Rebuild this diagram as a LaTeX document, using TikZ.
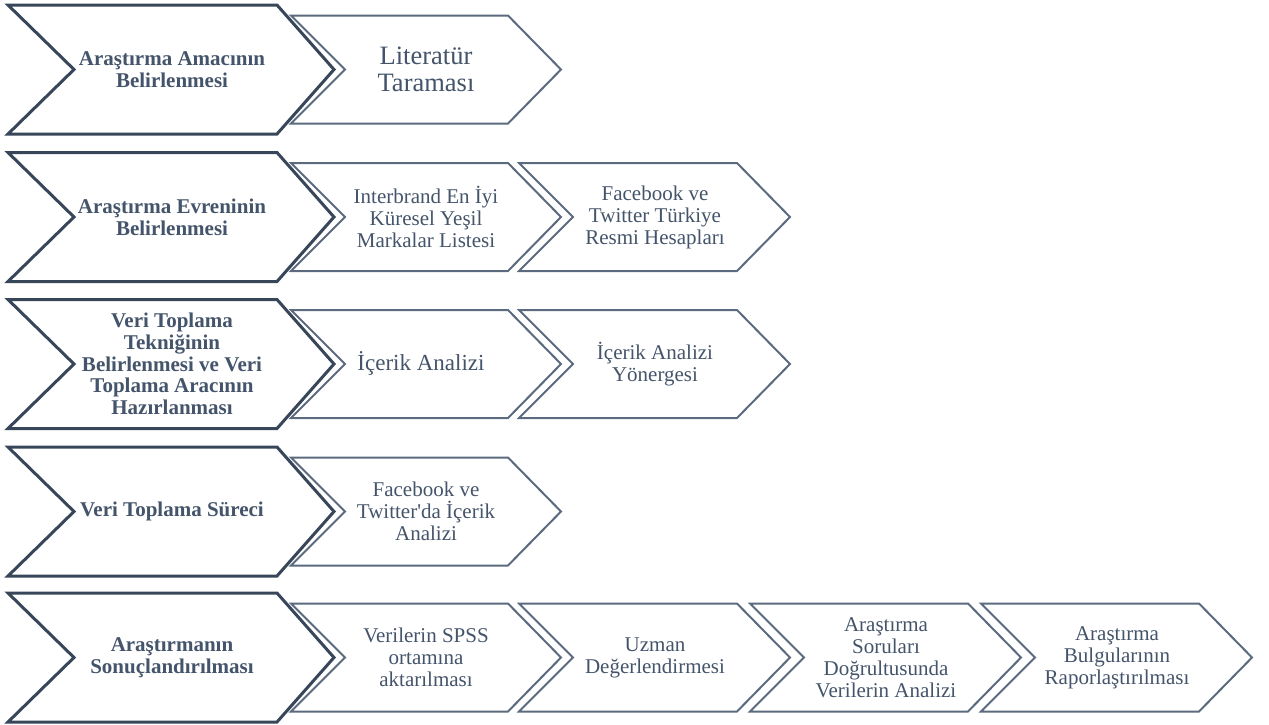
\documentclass[tikz,border=0pt]{standalone}
\usepackage{fontspec}
\setmainfont{Liberation Serif}
\definecolor{anarenk}{HTML}{38465A}
\definecolor{altrenk}{HTML}{5B6A7E}
\definecolor{yazirenk}{HTML}{44546A}
\tikzset{
  anaok/.style={draw=anarenk,line width=3pt,fill=white},
  altok/.style={draw=altrenk,line width=2pt,fill=white},
  anayazi/.style={align=center,inner sep=0pt,text=yazirenk,font=\fontsize{21}{21.7}\selectfont\bfseries},
  altyazi/.style={align=center,inner sep=0pt,text=yazirenk,font=\fontsize{21}{22}\selectfont},
}
\begin{document}
\begin{tikzpicture}[x=1pt,y=-1pt]
   \useasboundingbox (0,0) rectangle (1269,724);

   % ana adimlar
   \draw[anaok] (8,5)--(277,5)--(334,69.5)--(277,134)--(8,134)--(74,69.5)--cycle;
   \draw[anaok] (8,152.5)--(277,152.5)--(334,217)--(277,281.5)--(8,281.5)--(74,217)--cycle;
   \draw[anaok] (8,299.5)--(277,299.5)--(334,364)--(277,428.5)--(8,428.5)--(74,364)--cycle;
   \draw[anaok] (8,447)--(277,447)--(334,511.5)--(277,576)--(8,576)--(74,511.5)--cycle;
   \draw[anaok] (8,593)--(277,593)--(334,657.5)--(277,722)--(8,722)--(74,657.5)--cycle;

   \node[anayazi] (amac) at (172,69.5) {Araştırma Amacının\\Belirlenmesi};
   \node[anayazi] (evren) at (172,217) {Araştırma Evreninin\\Belirlenmesi};
   \node[anayazi] (teknik) at (172,364) {Veri Toplama\\Tekniğinin\\Belirlenmesi ve Veri\\Toplama Aracının\\Hazırlanması};
   \node[anayazi] (surec) at (172,511.5) {Veri Toplama Süreci};
   \node[anayazi] (sonuc) at (172,657.5) {Araştırmanın\\Sonuçlandırılması};

   % alt adimlar
   \draw[altok] (291,15.5)--(508,15.5)--(561,69.5)--(508,123.5)--(291,123.5)--(345,69.5)--cycle;

   \draw[altok] (291,163)--(508,163)--(561,217)--(508,271)--(291,271)--(345,217)--cycle;
   \draw[altok] (519,163)--(737,163)--(790,217)--(737,271)--(519,271)--(573,217)--cycle;

   \draw[altok] (291,310)--(508,310)--(561,364)--(508,418)--(291,418)--(345,364)--cycle;
   \draw[altok] (519,310)--(737,310)--(790,364)--(737,418)--(519,418)--(573,364)--cycle;

   \draw[altok] (291,457.5)--(508,457.5)--(561,511.5)--(508,565.5)--(291,565.5)--(345,511.5)--cycle;

   \draw[altok] (291,603.5)--(508,603.5)--(561,657.5)--(508,711.5)--(291,711.5)--(345,657.5)--cycle;
   \draw[altok] (519,603.5)--(737,603.5)--(790,657.5)--(737,711.5)--(519,711.5)--(573,657.5)--cycle;
   \draw[altok] (750,603.5)--(968,603.5)--(1021,657.5)--(968,711.5)--(750,711.5)--(804,657.5)--cycle;
   \draw[altok] (981,603.5)--(1199,603.5)--(1252,657.5)--(1199,711.5)--(981,711.5)--(1035,657.5)--cycle;

   \node[altyazi,font=\fontsize{26.5}{27.3}\selectfont] (literatur) at (426,69.5) {Literatür\\Taraması};
   \node[altyazi] (liste) at (426,217) {Interbrand En İyi\\Küresel Yeşil\\Markalar Listesi};
   \node[altyazi] (hesap) at (655,217) {Facebook ve\\Twitter Türkiye\\Resmi Hesapları};
   \node[altyazi,font=\fontsize{23}{24}\selectfont] (icerik) at (421,363) {İçerik Analizi};
   \node[altyazi] (yonerge) at (655,364) {İçerik Analizi\\Yönergesi};
   \node[altyazi] (twitter) at (426,511.5) {Facebook ve\\Twitter\textquotesingle da İçerik\\Analizi};
   \node[altyazi] (spss) at (426,657.5) {Verilerin SPSS\\ortamına\\aktarılması};
   \node[altyazi] (uzman) at (655,657.5) {Uzman\\Değerlendirmesi};
   \node[altyazi] (analiz) at (886,657.5) {Araştırma\\Soruları\\Doğrultusunda\\Verilerin Analizi};
   \node[altyazi] (rapor) at (1117,657.5) {Araştırma\\Bulgularının\\Raporlaştırılması};
   %\node[altyazi] at (426,700) {};
\end{tikzpicture}
\end{document}
